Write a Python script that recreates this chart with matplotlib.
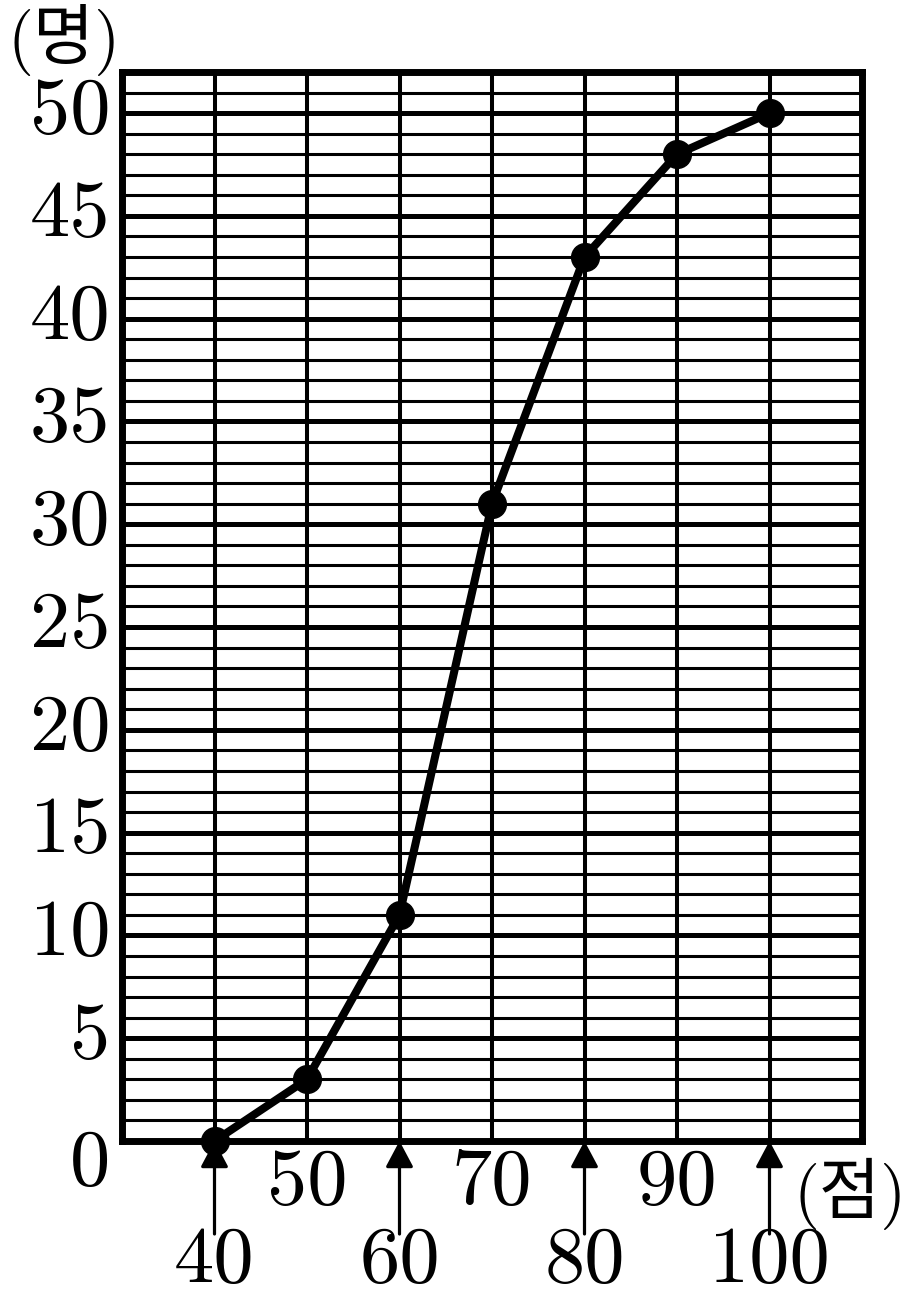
import matplotlib
matplotlib.use("Agg")
import matplotlib.pyplot as plt
import numpy as np

scores = [40, 50, 60, 70, 80, 90, 100]
cum_counts = [0, 3, 11, 31, 43, 48, 50]
y_tick_labels = [0, 5, 10, 15, 20, 25, 30, 35, 40, 45, 50]
x_low_labels = [40, 60, 80, 100]
x_high_labels = [50, 70, 90]
y_unit = "(명)"
x_unit = "(점)"

FAM = ["cmr10", "Noto Sans CJK KR", "DejaVu Sans"]
plt.rcParams["font.family"] = FAM

W, H = 911, 1311
fig = plt.figure(figsize=(W / 100, H / 100), dpi=100)
L, R, T, B = 122, 862, 72, 1141
ax = fig.add_axes([L / W, 1 - B / H, (R - L) / W, (B - T) / H])
ax.set_xlim(30, 110)
ax.set_ylim(0, 52)
ax.set_xticks([])
ax.set_yticks([])
for s in ax.spines.values():
    s.set_linewidth(5)
    s.set_color("black")

# grid
for yv in range(1, 52):
    lw = 3.6 if yv % 5 == 0 else 2.2
    ax.axhline(yv, color="black", lw=lw, zorder=1)
for xv in range(40, 110, 10):
    ax.axvline(xv, color="black", lw=2.9, zorder=1)

ax.plot(scores, cum_counts, color="black", lw=5.8, marker="o", ms=20,
        zorder=5, clip_on=False, solid_joinstyle="round")

fs = 58
fs_unit = 48
px_per_y = (B - T) / 52.0
def ypix_to_data(yp):
    return (B - yp) / px_per_y

# y labels
for v in y_tick_labels:
    yy = ypix_to_data(1165) if v == 0 else v
    ax.text(-0.016, yy, str(v), transform=ax.get_yaxis_transform(),
            ha="right", va="center", fontsize=fs, clip_on=False)

# higher x labels
for v in x_high_labels:
    ax.text(v, ypix_to_data(1184), str(v), ha="center", va="center",
            fontsize=fs, clip_on=False)
# lower x labels with arrows
for v in x_low_labels:
    ax.text(v, ypix_to_data(1262), str(v), ha="center", va="center",
            fontsize=fs, clip_on=False)
    ax.annotate("", xy=(v, 0), xytext=(v, ypix_to_data(1234)),
                arrowprops=dict(arrowstyle="-|>,head_length=1.6,head_width=0.85",
                                color="black", lw=2.3, shrinkA=0, shrinkB=0),
                annotation_clip=False)

fig.text(850 / W, 1 - 1194 / H, x_unit, ha="center", va="center", fontsize=fs_unit)
fig.text(64 / W, 1 - 40 / H, y_unit, ha="center", va="center", fontsize=fs_unit)

fig.savefig("out.png", dpi=100, facecolor="white")
